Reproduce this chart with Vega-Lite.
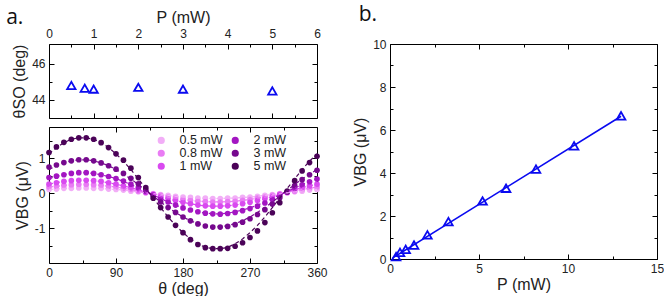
{
  "$schema": "https://vega.github.io/schema/vega-lite/v6.json",
  "padding": {"left": 6, "top": 3, "right": 0, "bottom": 0},
  "background": "white",
  "config": {
    "view": {"stroke": "#000", "strokeWidth": 1},
    "font": "Liberation Sans",
    "axis": {"domain": false, "grid": false, "tickColor": "#000", "tickWidth": 1, "labelColor": "#222", "labelFontSize": 12, "labelFont": "Liberation Sans", "titleFont": "Liberation Sans", "titleFontSize": 16, "titleFontWeight": "normal", "titleColor": "#222", "labelFlush": false, "labelOverlap": false, "labelPadding": 9},
    "title": {"font": "Open Sans", "fontSize": 21, "fontWeight": "normal", "color": "#111"}
  },
  "datasets": {
    "so": [{"P":0.5,"T":44.8},{"P":0.8,"T":44.65},{"P":1,"T":44.6},{"P":2,"T":44.7},{"P":3,"T":44.6},{"P":5,"T":44.5}],
    "lin": [{"P":0.34,"V":0.11},{"P":0.56,"V":0.31},{"P":0.88,"V":0.45},{"P":1.35,"V":0.65},{"P":2.1,"V":1.12},{"P":3.28,"V":1.74},{"P":5.2,"V":2.7},{"P":6.52,"V":3.29},{"P":8.2,"V":4.18},{"P":10.34,"V":5.26},{"P":12.98,"V":6.66}],
    "linfit": [{"P":0.15,"V":0.05},{"P":12.98,"V":6.64}],
    "sin": [
      {"t":0,"p":"0.5 mW","v":0.11,"f":0.11},{"t":10,"p":"0.5 mW","v":0.12,"f":0.12},{"t":20,"p":"0.5 mW","v":0.14,"f":0.14},{"t":30,"p":"0.5 mW","v":0.14,"f":0.14},{"t":40,"p":"0.5 mW","v":0.15,"f":0.15},{"t":50,"p":"0.5 mW","v":0.15,"f":0.15},{"t":60,"p":"0.5 mW","v":0.14,"f":0.14},{"t":70,"p":"0.5 mW","v":0.14,"f":0.14},{"t":80,"p":"0.5 mW","v":0.12,"f":0.12},{"t":90,"p":"0.5 mW","v":0.11,"f":0.11},{"t":100,"p":"0.5 mW","v":0.09,"f":0.09},{"t":110,"p":"0.5 mW","v":0.06,"f":0.06},{"t":120,"p":"0.5 mW","v":0.04,"f":0.04},{"t":130,"p":"0.5 mW","v":0.01,"f":0.01},{"t":140,"p":"0.5 mW","v":-0.01,"f":-0.01},{"t":150,"p":"0.5 mW","v":-0.04,"f":-0.04},{"t":160,"p":"0.5 mW","v":-0.06,"f":-0.06},{"t":170,"p":"0.5 mW","v":-0.09,"f":-0.09},{"t":180,"p":"0.5 mW","v":-0.11,"f":-0.11},{"t":190,"p":"0.5 mW","v":-0.12,"f":-0.12},{"t":200,"p":"0.5 mW","v":-0.14,"f":-0.14},{"t":210,"p":"0.5 mW","v":-0.14,"f":-0.14},{"t":220,"p":"0.5 mW","v":-0.15,"f":-0.15},{"t":230,"p":"0.5 mW","v":-0.15,"f":-0.15},{"t":240,"p":"0.5 mW","v":-0.14,"f":-0.14},{"t":250,"p":"0.5 mW","v":-0.14,"f":-0.14},{"t":260,"p":"0.5 mW","v":-0.12,"f":-0.12},{"t":270,"p":"0.5 mW","v":-0.11,"f":-0.11},{"t":280,"p":"0.5 mW","v":-0.09,"f":-0.09},{"t":290,"p":"0.5 mW","v":-0.06,"f":-0.06},{"t":300,"p":"0.5 mW","v":-0.04,"f":-0.04},{"t":310,"p":"0.5 mW","v":-0.01,"f":-0.01},{"t":320,"p":"0.5 mW","v":0.01,"f":0.01},{"t":330,"p":"0.5 mW","v":0.04,"f":0.04},{"t":340,"p":"0.5 mW","v":0.06,"f":0.06},{"t":350,"p":"0.5 mW","v":0.09,"f":0.09},{"t":360,"p":"0.5 mW","v":0.11,"f":0.11},
      {"t":0,"p":"0.8 mW","v":0.18,"f":0.18},{"t":10,"p":"0.8 mW","v":0.2,"f":0.2},{"t":20,"p":"0.8 mW","v":0.23,"f":0.23},{"t":30,"p":"0.8 mW","v":0.24,"f":0.24},{"t":40,"p":"0.8 mW","v":0.25,"f":0.25},{"t":50,"p":"0.8 mW","v":0.25,"f":0.25},{"t":60,"p":"0.8 mW","v":0.24,"f":0.24},{"t":70,"p":"0.8 mW","v":0.23,"f":0.23},{"t":80,"p":"0.8 mW","v":0.2,"f":0.2},{"t":90,"p":"0.8 mW","v":0.18,"f":0.18},{"t":100,"p":"0.8 mW","v":0.14,"f":0.14},{"t":110,"p":"0.8 mW","v":0.11,"f":0.11},{"t":120,"p":"0.8 mW","v":0.06,"f":0.06},{"t":130,"p":"0.8 mW","v":0.02,"f":0.02},{"t":140,"p":"0.8 mW","v":-0.02,"f":-0.02},{"t":150,"p":"0.8 mW","v":-0.06,"f":-0.06},{"t":160,"p":"0.8 mW","v":-0.11,"f":-0.11},{"t":170,"p":"0.8 mW","v":-0.14,"f":-0.14},{"t":180,"p":"0.8 mW","v":-0.18,"f":-0.18},{"t":190,"p":"0.8 mW","v":-0.2,"f":-0.2},{"t":200,"p":"0.8 mW","v":-0.23,"f":-0.23},{"t":210,"p":"0.8 mW","v":-0.24,"f":-0.24},{"t":220,"p":"0.8 mW","v":-0.25,"f":-0.25},{"t":230,"p":"0.8 mW","v":-0.25,"f":-0.25},{"t":240,"p":"0.8 mW","v":-0.24,"f":-0.24},{"t":250,"p":"0.8 mW","v":-0.23,"f":-0.23},{"t":260,"p":"0.8 mW","v":-0.2,"f":-0.2},{"t":270,"p":"0.8 mW","v":-0.18,"f":-0.18},{"t":280,"p":"0.8 mW","v":-0.14,"f":-0.14},{"t":290,"p":"0.8 mW","v":-0.11,"f":-0.11},{"t":300,"p":"0.8 mW","v":-0.06,"f":-0.06},{"t":310,"p":"0.8 mW","v":-0.02,"f":-0.02},{"t":320,"p":"0.8 mW","v":0.02,"f":0.02},{"t":330,"p":"0.8 mW","v":0.06,"f":0.06},{"t":340,"p":"0.8 mW","v":0.11,"f":0.11},{"t":350,"p":"0.8 mW","v":0.14,"f":0.14},{"t":360,"p":"0.8 mW","v":0.18,"f":0.18},
      {"t":0,"p":"1 mW","v":0.26,"f":0.26},{"t":10,"p":"1 mW","v":0.3,"f":0.3},{"t":20,"p":"1 mW","v":0.34,"f":0.34},{"t":30,"p":"1 mW","v":0.36,"f":0.36},{"t":40,"p":"1 mW","v":0.37,"f":0.37},{"t":50,"p":"1 mW","v":0.37,"f":0.37},{"t":60,"p":"1 mW","v":0.36,"f":0.36},{"t":70,"p":"1 mW","v":0.34,"f":0.34},{"t":80,"p":"1 mW","v":0.3,"f":0.3},{"t":90,"p":"1 mW","v":0.26,"f":0.26},{"t":100,"p":"1 mW","v":0.21,"f":0.21},{"t":110,"p":"1 mW","v":0.16,"f":0.16},{"t":120,"p":"1 mW","v":0.1,"f":0.1},{"t":130,"p":"1 mW","v":0.03,"f":0.03},{"t":140,"p":"1 mW","v":-0.03,"f":-0.03},{"t":150,"p":"1 mW","v":-0.1,"f":-0.1},{"t":160,"p":"1 mW","v":-0.16,"f":-0.16},{"t":170,"p":"1 mW","v":-0.21,"f":-0.21},{"t":180,"p":"1 mW","v":-0.26,"f":-0.26},{"t":190,"p":"1 mW","v":-0.3,"f":-0.3},{"t":200,"p":"1 mW","v":-0.34,"f":-0.34},{"t":210,"p":"1 mW","v":-0.36,"f":-0.36},{"t":220,"p":"1 mW","v":-0.37,"f":-0.37},{"t":230,"p":"1 mW","v":-0.37,"f":-0.37},{"t":240,"p":"1 mW","v":-0.36,"f":-0.36},{"t":250,"p":"1 mW","v":-0.34,"f":-0.34},{"t":260,"p":"1 mW","v":-0.3,"f":-0.3},{"t":270,"p":"1 mW","v":-0.26,"f":-0.26},{"t":280,"p":"1 mW","v":-0.21,"f":-0.21},{"t":290,"p":"1 mW","v":-0.16,"f":-0.16},{"t":300,"p":"1 mW","v":-0.1,"f":-0.1},{"t":310,"p":"1 mW","v":-0.03,"f":-0.03},{"t":320,"p":"1 mW","v":0.03,"f":0.03},{"t":330,"p":"1 mW","v":0.1,"f":0.1},{"t":340,"p":"1 mW","v":0.16,"f":0.16},{"t":350,"p":"1 mW","v":0.21,"f":0.21},{"t":360,"p":"1 mW","v":0.26,"f":0.26},
      {"t":0,"p":"2 mW","v":0.45,"f":0.42},{"t":10,"p":"2 mW","v":0.49,"f":0.48},{"t":20,"p":"2 mW","v":0.53,"f":0.53},{"t":30,"p":"2 mW","v":0.57,"f":0.57},{"t":40,"p":"2 mW","v":0.59,"f":0.59},{"t":50,"p":"2 mW","v":0.59,"f":0.59},{"t":60,"p":"2 mW","v":0.57,"f":0.57},{"t":70,"p":"2 mW","v":0.53,"f":0.53},{"t":80,"p":"2 mW","v":0.48,"f":0.48},{"t":90,"p":"2 mW","v":0.42,"f":0.42},{"t":100,"p":"2 mW","v":0.35,"f":0.34},{"t":110,"p":"2 mW","v":0.26,"f":0.25},{"t":120,"p":"2 mW","v":0.16,"f":0.15},{"t":130,"p":"2 mW","v":0.05,"f":0.05},{"t":140,"p":"2 mW","v":-0.05,"f":-0.05},{"t":150,"p":"2 mW","v":-0.15,"f":-0.15},{"t":160,"p":"2 mW","v":-0.25,"f":-0.25},{"t":170,"p":"2 mW","v":-0.34,"f":-0.34},{"t":180,"p":"2 mW","v":-0.42,"f":-0.42},{"t":190,"p":"2 mW","v":-0.48,"f":-0.48},{"t":200,"p":"2 mW","v":-0.53,"f":-0.53},{"t":210,"p":"2 mW","v":-0.57,"f":-0.57},{"t":220,"p":"2 mW","v":-0.59,"f":-0.59},{"t":230,"p":"2 mW","v":-0.6,"f":-0.59},{"t":240,"p":"2 mW","v":-0.58,"f":-0.57},{"t":250,"p":"2 mW","v":-0.55,"f":-0.53},{"t":260,"p":"2 mW","v":-0.5,"f":-0.48},{"t":270,"p":"2 mW","v":-0.44,"f":-0.42},{"t":280,"p":"2 mW","v":-0.37,"f":-0.34},{"t":290,"p":"2 mW","v":-0.28,"f":-0.25},{"t":300,"p":"2 mW","v":-0.18,"f":-0.15},{"t":310,"p":"2 mW","v":-0.07,"f":-0.05},{"t":320,"p":"2 mW","v":0.03,"f":0.05},{"t":330,"p":"2 mW","v":0.14,"f":0.15},{"t":340,"p":"2 mW","v":0.24,"f":0.25},{"t":350,"p":"2 mW","v":0.33,"f":0.34},{"t":360,"p":"2 mW","v":0.41,"f":0.42},
      {"t":0,"p":"3 mW","v":0.75,"f":0.68},{"t":10,"p":"3 mW","v":0.81,"f":0.79},{"t":20,"p":"3 mW","v":0.88,"f":0.87},{"t":30,"p":"3 mW","v":0.93,"f":0.93},{"t":40,"p":"3 mW","v":0.96,"f":0.96},{"t":50,"p":"3 mW","v":0.96,"f":0.96},{"t":60,"p":"3 mW","v":0.93,"f":0.93},{"t":70,"p":"3 mW","v":0.87,"f":0.87},{"t":80,"p":"3 mW","v":0.79,"f":0.79},{"t":90,"p":"3 mW","v":0.69,"f":0.68},{"t":100,"p":"3 mW","v":0.57,"f":0.55},{"t":110,"p":"3 mW","v":0.43,"f":0.41},{"t":120,"p":"3 mW","v":0.27,"f":0.25},{"t":130,"p":"3 mW","v":0.09,"f":0.08},{"t":140,"p":"3 mW","v":-0.08,"f":-0.08},{"t":150,"p":"3 mW","v":-0.25,"f":-0.25},{"t":160,"p":"3 mW","v":-0.41,"f":-0.41},{"t":170,"p":"3 mW","v":-0.55,"f":-0.55},{"t":180,"p":"3 mW","v":-0.68,"f":-0.68},{"t":190,"p":"3 mW","v":-0.79,"f":-0.79},{"t":200,"p":"3 mW","v":-0.88,"f":-0.87},{"t":210,"p":"3 mW","v":-0.94,"f":-0.93},{"t":220,"p":"3 mW","v":-0.97,"f":-0.96},{"t":230,"p":"3 mW","v":-0.97,"f":-0.96},{"t":240,"p":"3 mW","v":-0.95,"f":-0.93},{"t":250,"p":"3 mW","v":-0.9,"f":-0.87},{"t":260,"p":"3 mW","v":-0.83,"f":-0.79},{"t":270,"p":"3 mW","v":-0.73,"f":-0.68},{"t":280,"p":"3 mW","v":-0.61,"f":-0.55},{"t":290,"p":"3 mW","v":-0.47,"f":-0.41},{"t":300,"p":"3 mW","v":-0.31,"f":-0.25},{"t":310,"p":"3 mW","v":-0.13,"f":-0.08},{"t":320,"p":"3 mW","v":0.04,"f":0.08},{"t":330,"p":"3 mW","v":0.22,"f":0.25},{"t":340,"p":"3 mW","v":0.39,"f":0.41},{"t":350,"p":"3 mW","v":0.53,"f":0.55},{"t":360,"p":"3 mW","v":0.66,"f":0.68},
      {"t":0,"p":"5 mW","v":1.17,"f":1.13},{"t":10,"p":"5 mW","v":1.33,"f":1.31},{"t":20,"p":"5 mW","v":1.46,"f":1.45},{"t":30,"p":"5 mW","v":1.55,"f":1.55},{"t":40,"p":"5 mW","v":1.59,"f":1.59},{"t":50,"p":"5 mW","v":1.59,"f":1.59},{"t":60,"p":"5 mW","v":1.55,"f":1.55},{"t":70,"p":"5 mW","v":1.45,"f":1.45},{"t":80,"p":"5 mW","v":1.31,"f":1.31},{"t":90,"p":"5 mW","v":1.13,"f":1.13},{"t":100,"p":"5 mW","v":0.95,"f":0.92},{"t":110,"p":"5 mW","v":0.72,"f":0.68},{"t":120,"p":"5 mW","v":0.45,"f":0.41},{"t":130,"p":"5 mW","v":0.16,"f":0.14},{"t":140,"p":"5 mW","v":-0.14,"f":-0.14},{"t":150,"p":"5 mW","v":-0.41,"f":-0.41},{"t":160,"p":"5 mW","v":-0.68,"f":-0.68},{"t":170,"p":"5 mW","v":-0.92,"f":-0.92},{"t":180,"p":"5 mW","v":-1.13,"f":-1.13},{"t":190,"p":"5 mW","v":-1.33,"f":-1.31},{"t":200,"p":"5 mW","v":-1.47,"f":-1.45},{"t":210,"p":"5 mW","v":-1.56,"f":-1.55},{"t":220,"p":"5 mW","v":-1.59,"f":-1.59},{"t":230,"p":"5 mW","v":-1.59,"f":-1.59},{"t":240,"p":"5 mW","v":-1.58,"f":-1.55},{"t":250,"p":"5 mW","v":-1.52,"f":-1.45},{"t":260,"p":"5 mW","v":-1.42,"f":-1.31},{"t":270,"p":"5 mW","v":-1.27,"f":-1.13},{"t":280,"p":"5 mW","v":-1.08,"f":-0.92},{"t":290,"p":"5 mW","v":-0.84,"f":-0.68},{"t":300,"p":"5 mW","v":-0.56,"f":-0.41},{"t":310,"p":"5 mW","v":-0.27,"f":-0.14},{"t":320,"p":"5 mW","v":0.06,"f":0.14},{"t":330,"p":"5 mW","v":0.36,"f":0.41},{"t":340,"p":"5 mW","v":0.64,"f":0.68},{"t":350,"p":"5 mW","v":0.88,"f":0.92},{"t":360,"p":"5 mW","v":1.06,"f":1.13}
    ]
  },
  "spacing": 24,
  "resolve": {"scale": {"color": "independent"}, "legend": {"color": "independent"}},
  "hconcat": [
    {
      "title": {"text": "a.", "anchor": "start", "offset": -19, "dx": -5},
      "spacing": 7,
      "resolve": {"scale": {"color": "independent"}, "legend": {"color": "independent"}},
      "vconcat": [
        {
          "width": 268,
          "height": 74,
          "data": {"name": "so"},
          "layer": [
            {
              "mark": {"type": "point", "shape": "triangle-up", "filled": false, "color": "#0a0af0", "strokeWidth": 1.8, "size": 70, "opacity": 1},
              "encoding": {
                "x": {"field": "P", "type": "quantitative", "scale": {"domain": [0, 6], "nice": false},
                  "axis": {"orient": "top", "title": "P (mW)", "titlePadding": 0, "values": [0,0.5,1,1.5,2,2.5,3,3.5,4,4.5,5,5.5,6], "labelExpr": "datum.value % 1 === 0 ? '' + datum.value : ''", "tickSize": {"condition": {"test": "datum.value % 1 === 0", "value": -5}, "value": -3}}},
                "y": {"field": "T", "type": "quantitative", "scale": {"domain": [43, 47.1], "nice": false, "zero": false},
                  "axis": {"title": "θSO (deg)", "values": [44, 45, 46], "labelExpr": "datum.value % 2 === 0 ? '' + datum.value : ''", "tickSize": {"condition": {"test": "datum.value % 2 === 0", "value": -5}, "value": -3}}}
              }
            },
            {
              "mark": {"type": "point", "opacity": 0},
              "encoding": {
                "x": {"field": "P", "type": "quantitative", "axis": {"orient": "bottom", "title": null, "labels": false, "values": [0,0.5,1,1.5,2,2.5,3,3.5,4,4.5,5,5.5,6], "tickSize": {"condition": {"test": "datum.value % 1 === 0", "value": -5}, "value": -3}}},
                "y": {"field": "T", "type": "quantitative", "axis": {"orient": "right", "title": null, "labels": false, "values": [44, 45, 46], "tickSize": {"condition": {"test": "datum.value % 2 === 0", "value": -5}, "value": -3}}}
              }
            }
          ],
          "resolve": {"axis": {"x": "independent", "y": "independent"}}
        },
        {
          "width": 268,
          "height": 136,
          "data": {"name": "sin"},
          "layer": [
            {
              "mark": {"type": "circle", "size": 32, "opacity": 1},
              "encoding": {
                "x": {"field": "t", "type": "quantitative", "scale": {"domain": [0, 360], "nice": false},
                  "axis": {"title": "θ (deg)", "titlePadding": 0, "values": [0,45,90,135,180,225,270,315,360], "labelExpr": "datum.value % 90 === 0 ? '' + datum.value : ''", "tickSize": {"condition": {"test": "datum.value % 90 === 0", "value": -5}, "value": -3}}},
                "y": {"field": "v", "type": "quantitative", "scale": {"domain": [-2, 1.9], "nice": false},
                  "axis": {"title": "VBG (μV)", "values": [-1.5,-1,-0.5,0,0.5,1,1.5], "labelExpr": "datum.value % 1 === 0 ? '' + datum.value : ''", "tickSize": {"condition": {"test": "datum.value % 1 === 0", "value": -5}, "value": -3}}},
                "color": {"field": "p", "type": "nominal",
                  "scale": {"domain": ["0.5 mW","0.8 mW","1 mW","2 mW","3 mW","5 mW"], "range": ["#f2aef7","#e97cf4","#d94af0","#a316c2","#76098e","#4b0358"]},
                  "legend": {"orient": "none", "legendX": 106, "legendY": 7, "columns": 2, "title": null, "symbolType": "circle", "symbolSize": 32, "labelFontSize": 12.5, "labelColor": "#222", "rowPadding": 0, "columnPadding": 6, "labelOffset": 12}}
              }
            },
            {
              "mark": {"type": "line", "strokeDash": [4, 3], "strokeWidth": 1.2},
              "encoding": {
                "x": {"field": "t", "type": "quantitative", "axis": null},
                "y": {"field": "f", "type": "quantitative", "axis": null},
                "color": {"field": "p", "type": "nominal", "legend": null}
              }
            },
            {
              "mark": {"type": "point", "opacity": 0},
              "encoding": {
                "x": {"field": "t", "type": "quantitative", "axis": {"orient": "top", "title": null, "labels": false, "values": [0,45,90,135,180,225,270,315,360], "tickSize": {"condition": {"test": "datum.value % 90 === 0", "value": -5}, "value": -3}}},
                "y": {"field": "v", "type": "quantitative", "axis": {"orient": "right", "title": null, "labels": false, "values": [-1.5,-1,-0.5,0,0.5,1,1.5], "tickSize": {"condition": {"test": "datum.value % 1 === 0", "value": -5}, "value": -3}}}
              }
            }
          ],
          "resolve": {"axis": {"x": "independent", "y": "independent"}}
        }
      ]
    },
    {
      "title": {"text": "b.", "anchor": "start", "offset": 13, "dx": 6},
      "width": 267,
      "height": 215,
      "layer": [
        {
          "data": {"name": "linfit"},
          "mark": {"type": "line", "color": "#0a0af0", "strokeWidth": 1.6},
          "encoding": {
            "x": {"field": "P", "type": "quantitative", "scale": {"domain": [0, 15], "nice": false},
              "axis": {"title": "P (mW)", "titlePadding": 0, "values": [0,2.5,5,7.5,10,12.5,15], "labelExpr": "datum.value % 5 === 0 ? '' + datum.value : ''", "tickSize": {"condition": {"test": "datum.value % 5 === 0", "value": -5}, "value": -3}}},
            "y": {"field": "V", "type": "quantitative", "scale": {"domain": [0, 10], "nice": false},
              "axis": {"title": "VBG (μV)", "values": [0,1,2,3,4,5,6,7,8,9,10], "labelExpr": "datum.value % 2 === 0 ? '' + datum.value : ''", "tickSize": {"condition": {"test": "datum.value % 2 === 0", "value": -5}, "value": -3}}}
          }
        },
        {
          "data": {"name": "lin"},
          "mark": {"type": "point", "shape": "triangle-up", "filled": false, "color": "#0a0af0", "strokeWidth": 1.8, "size": 75, "opacity": 1},
          "encoding": {
            "x": {"field": "P", "type": "quantitative", "axis": null},
            "y": {"field": "V", "type": "quantitative", "axis": null}
          }
        },
        {
          "data": {"name": "lin"},
          "mark": {"type": "point", "opacity": 0},
          "encoding": {
            "x": {"field": "P", "type": "quantitative", "axis": {"orient": "top", "title": null, "labels": false, "values": [0,2.5,5,7.5,10,12.5,15], "tickSize": {"condition": {"test": "datum.value % 5 === 0", "value": -5}, "value": -3}}},
            "y": {"field": "V", "type": "quantitative", "axis": {"orient": "right", "title": null, "labels": false, "values": [0,1,2,3,4,5,6,7,8,9,10], "tickSize": {"condition": {"test": "datum.value % 2 === 0", "value": -5}, "value": -3}}}
          }
        }
      ],
      "resolve": {"axis": {"x": "independent", "y": "independent"}}
    }
  ]
}
